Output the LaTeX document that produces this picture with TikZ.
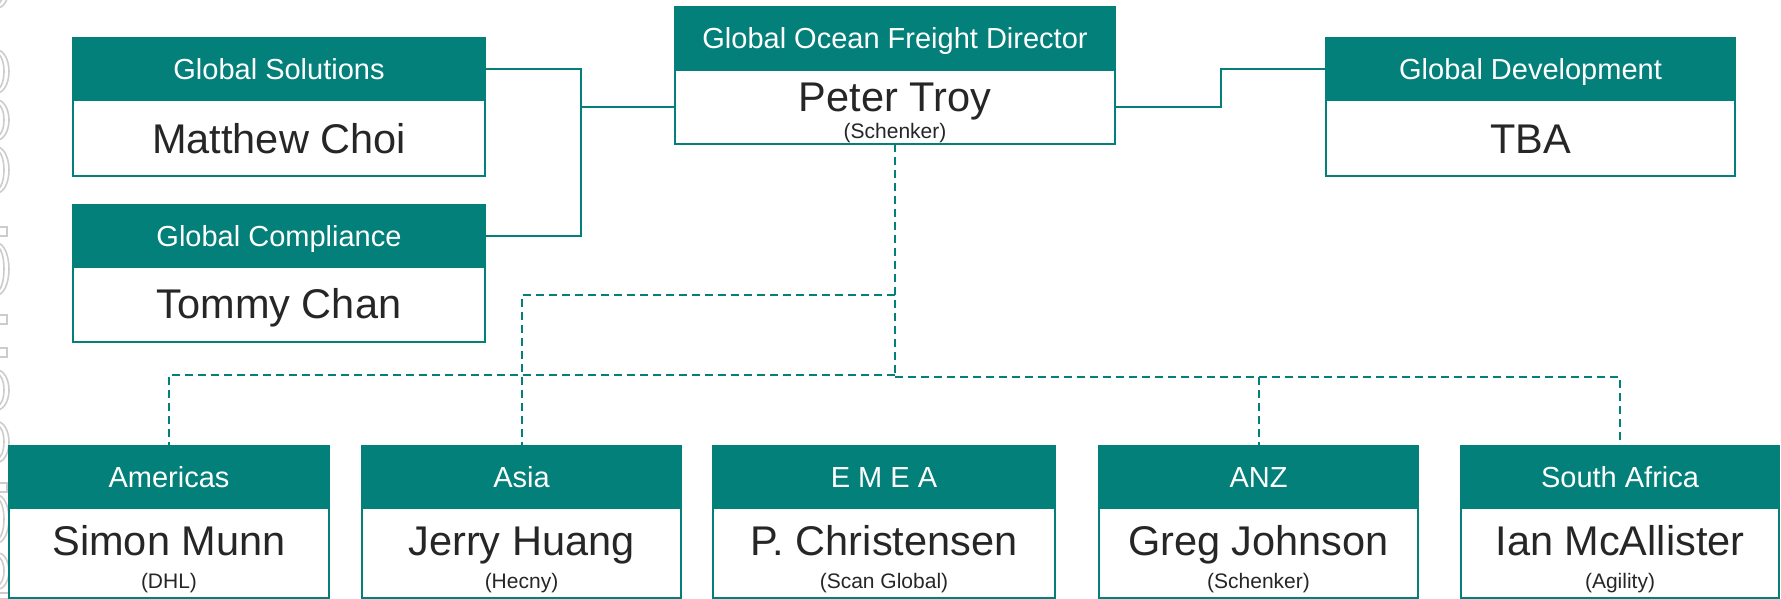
\documentclass[tikz,border=0pt]{standalone}
\usepackage{fontspec}
\setmainfont{Liberation Sans}
\definecolor{teal0}{HTML}{03807A}
\definecolor{ink}{HTML}{262626}
\definecolor{wmgray}{HTML}{CCCCCC}

\tikzset{
  hdr/.style={fill=teal0, draw=teal0, line width=1pt, inner sep=0pt, outer sep=0pt,
    text=white, font=\fontsize{14.5}{16}\selectfont, text height=10.4pt, text depth=0pt,
    anchor=north west},
  bodybox/.style={fill=white, draw=teal0, line width=1pt, inner sep=0pt, outer sep=0pt,
    anchor=north west},
  who/.style={anchor=base, inner sep=0pt, text=ink, font=\fontsize{20.75}{24}\selectfont},
  firm/.style={anchor=base, inner sep=0pt, text=ink, font=\fontsize{10.5}{12}\selectfont},
  link/.style={draw=teal0, line width=1pt},
  dlink/.style={draw=teal0, line width=1pt, dash pattern=on 4pt off 2.5pt},
  wm/.style={draw=wmgray, line width=0.8pt},
}

% #1 id, #2 left, #3 top, #4 right, #5 header bottom, #6 bottom, #7 header text
\newcommand\orgbox[7]{%
  \node[hdr, minimum width={(#4-#2)*0.5pt}, minimum height={(#5-#3)*0.5pt}] (#1h) at (#2,#3) {#7};
  \node[bodybox, minimum width={(#4-#2)*0.5pt}, minimum height={(#6-#5)*0.5pt}] (#1) at (#2,#5) {};
}

\begin{document}
\begin{tikzpicture}[x=0.5pt, y=-0.5pt]
\useasboundingbox (0,0) rectangle (1781,599);

% faint outlined lettering cut by the left edge
\begin{scope}
  \clip (0,0) rectangle (60,599);
  \foreach \c/\h in {-12/20, 71.5/21.5, 120/20, 170/23, 269/26, 390/20, 442/20.5, 519/24, 571/18.5} {
    \draw[wm] (-3,\c) ellipse [x radius=12, y radius=\h];
    \draw[wm] (-3,\c) ellipse [x radius=7, y radius=\h-4];
  }
  \foreach \t in {227, 315, 348, 483} {
    \draw[wm] (-2,\t) rectangle (7,\t+9);
  }
  \draw[wm] (-2,593) rectangle (27,599);
\end{scope}

% upper row
\orgbox{sol}{73}{38}{485}{100}{176}{Global Solutions}
\orgbox{com}{73}{205}{485}{267}{342}{Global Compliance}
\orgbox{peter}{675}{7}{1115}{70}{144}{Global Ocean Freight Director}
\orgbox{dev}{1326}{38}{1735}{100}{176}{Global Development}

\node[who] (soln) at (sol.center |- 0,153) {Matthew Choi};
\node[who] (comn) at (com.center |- 0,318.5) {Tommy Chan};
\node[who] (petern) at (peter.center |- 0,112) {Peter Troy};
\node[firm] (peterc) at (peter.center |- 0,139) {(Schenker)};
\node[who] (devn) at (dev.center |- 0,153) {TBA};

% regional row
\orgbox{ame}{9}{446}{329}{508}{598}{Americas}
\orgbox{asia}{362}{446}{681}{508}{598}{Asia}
\orgbox{emea}{713}{446}{1055}{508}{598}{E M E A}
\orgbox{anz}{1099}{446}{1418}{508}{598}{ANZ}
\orgbox{sa}{1461}{446}{1779}{508}{598}{South Africa}

\node[who] (amen) at (ame.center |- 0,555) {Simon Munn};
\node[firm] (amec) at (ame.center |- 0,588) {(DHL)};
\node[who] (asian) at (asia.center |- 0,555) {Jerry Huang};
\node[firm] (asiac) at (asia.center |- 0,588) {(Hecny)};
\node[who] (emean) at (emea.center |- 0,555) {P. Christensen};
\node[firm] (emeac) at (emea.center |- 0,588) {(Scan Global)};
\node[who] (anzn) at (anz.center |- 0,555) {Greg Johnson};
\node[firm] (anzc) at (anz.center |- 0,588) {(Schenker)};
\node[who] (san) at (sa.center |- 0,555) {Ian McAllister};
\node[firm] (sac) at (sa.center |- 0,588) {(Agility)};

% solid reporting lines
\coordinate (lj) at (581,107);
\coordinate (rj) at (1221,69);
\draw[link] (solh.east) -| (lj) |- (comh.east);
\draw[link] (lj) -- (peter.west);
\draw[link] (peter.east) -| (rj) -- (devh.west);

% dotted regional lines
\coordinate (hub) at (peter.south |- 0,375);
\coordinate (upbus) at (peter.south |- 0,295);
\coordinate (rhub) at (peter.south |- 0,377);
\draw[dlink] (peter.south) -- (hub);
\draw[dlink] (upbus) -| (asiah.north);
\draw[dlink] (hub) -| (ameh.north);
\draw[dlink, line width=1.2pt] (rhub) -| (sah.north);
\draw[dlink] (anzh.north |- rhub) -- (anzh.north);
\end{tikzpicture}
\end{document}
